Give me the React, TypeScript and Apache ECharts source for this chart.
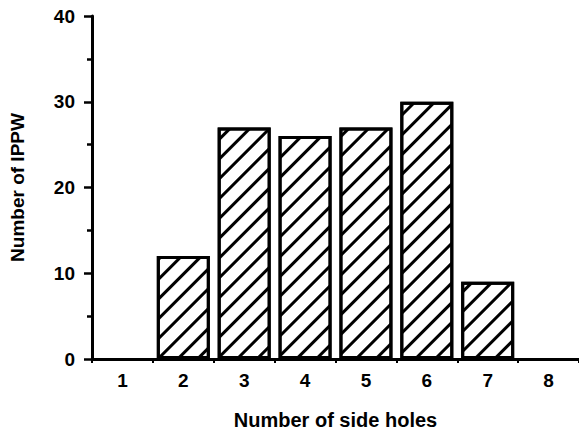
import React, { useEffect, useRef } from "react";
import * as echarts from "echarts";

const categories = ["1", "2", "3", "4", "5", "6", "7", "8"];
const counts = [0, 12, 27, 26, 27, 30, 9, 0];
const yTicks = { min: 0, max: 40, interval: 10 };
const xName = "Number of side holes";
const yName = "Number of IPPW";

const FONT = "Liberation Sans";

export default function App() {
  const ref = useRef<HTMLDivElement>(null);
  useEffect(() => {
    if (!ref.current) return;
    const chart = echarts.init(ref.current, undefined, { renderer: "svg" });
    chart.setOption({
      animation: false,
      backgroundColor: "#fff",
      grid: { left: 92, top: 16, bottom: 73, right: -6, containLabel: false },
      xAxis: {
        type: "category",
        data: categories,
        name: xName,
        nameLocation: "middle",
        nameGap: 51,
        nameTextStyle: { fontFamily: FONT, fontWeight: "bold", fontSize: 20, color: "#000", verticalAlign: "top" },
        axisLine: { lineStyle: { color: "#000", width: 3 } },
        axisTick: { show: true, length: 4, lineStyle: { color: "#000", width: 2 } },
        axisLabel: { fontFamily: FONT, fontWeight: "bold", fontSize: 19, color: "#000", margin: 11.5 },
        splitLine: { show: false },
      },
      yAxis: {
        type: "value",
        min: yTicks.min,
        max: yTicks.max,
        interval: yTicks.interval,
        name: yName,
        nameLocation: "middle",
        nameGap: 65,
        nameTextStyle: { fontFamily: FONT, fontWeight: "bold", fontSize: 19, color: "#000" },
        axisLine: { show: true, lineStyle: { color: "#000", width: 3 } },
        axisTick: { show: true, length: 8, lineStyle: { color: "#000", width: 2.5 } },
        minorTick: { show: true, splitNumber: 2, length: 5, lineStyle: { color: "#000", width: 2.5 } },
        axisLabel: { fontFamily: FONT, fontWeight: "bold", fontSize: 19, color: "#000", margin: 17 },
        splitLine: { show: false },
      },
      series: [
        {
          type: "bar",
          data: counts.map((v) => (v === 0 ? "-" : v)),
          barWidth: 53,
          itemStyle: {
            color: "#fff",
            borderColor: "#000",
            borderWidth: 3,
            decal: {
              symbol: "rect",
              symbolSize: 1,
              dashArrayX: [1, 0],
              dashArrayY: [2.5, 10.5],
              rotation: -Math.PI / 4,
              color: "#000",
              backgroundColor: "#fff",
            },
          },
        },
      ],
    });
    return () => chart.dispose();
  }, []);
  return <div ref={ref} style={{ width: 579, height: 435, position: "absolute", left: 0, top: 0 }} />;
}
